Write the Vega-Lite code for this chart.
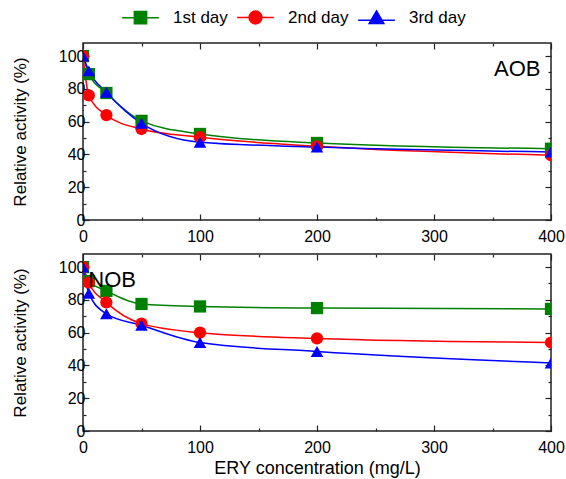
{
  "$schema": "https://vega.github.io/schema/vega-lite/v6.json",
  "padding": {"top": 9, "left": 10, "right": 0, "bottom": 0},
  "background": "white",
  "spacing": 7,
  "config": {
    "font": "Arial",
    "view": {"stroke": "#222222", "strokeWidth": 1.5},
    "axis": {"grid": false, "domain": false, "tickColor": "#222222", "tickWidth": 1.2, "labelColor": "black", "labelFontSize": 16, "titleFontSize": 17, "titleFontWeight": "normal", "titleColor": "black", "labelFont": "Arial", "titleFont": "Arial", "labelPadding": 4, "titlePadding": 29, "labelFlush": false},
    "axisX": {"labelPadding": 14},
    "legend": {
      "orient": "none", "legendX": 49, "legendY": -34, "direction": "horizontal",
      "labelFontSize": 17, "labelFont": "Arial", "labelColor": "black",
      "symbolSize": 150, "labelOffset": 24, "columnPadding": 6, "symbolStrokeWidth": 1.5, "symbolOpacity": 1
    }
  },
  "datasets": {
    "d": [
      {"panel": "AOB", "day": "1st day", "conc": 0, "act": 100},
      {"panel": "AOB", "day": "1st day", "conc": 5, "act": 89},
      {"panel": "AOB", "day": "1st day", "conc": 20, "act": 77.5},
      {"panel": "AOB", "day": "1st day", "conc": 50, "act": 60.5},
      {"panel": "AOB", "day": "1st day", "conc": 100, "act": 52.5},
      {"panel": "AOB", "day": "1st day", "conc": 200, "act": 47},
      {"panel": "AOB", "day": "1st day", "conc": 400, "act": 43.5},
      {"panel": "AOB", "day": "2nd day", "conc": 0, "act": 100},
      {"panel": "AOB", "day": "2nd day", "conc": 5, "act": 76},
      {"panel": "AOB", "day": "2nd day", "conc": 20, "act": 64},
      {"panel": "AOB", "day": "2nd day", "conc": 50, "act": 55.5},
      {"panel": "AOB", "day": "2nd day", "conc": 100, "act": 50.5},
      {"panel": "AOB", "day": "2nd day", "conc": 200, "act": 45},
      {"panel": "AOB", "day": "2nd day", "conc": 400, "act": 39.5},
      {"panel": "AOB", "day": "3rd day", "conc": 0, "act": 100},
      {"panel": "AOB", "day": "3rd day", "conc": 5, "act": 91},
      {"panel": "AOB", "day": "3rd day", "conc": 20, "act": 78},
      {"panel": "AOB", "day": "3rd day", "conc": 50, "act": 59},
      {"panel": "AOB", "day": "3rd day", "conc": 100, "act": 47.5},
      {"panel": "AOB", "day": "3rd day", "conc": 200, "act": 44.5},
      {"panel": "AOB", "day": "3rd day", "conc": 400, "act": 41.5},
      {"panel": "NOB", "day": "1st day", "conc": 0, "act": 100},
      {"panel": "NOB", "day": "1st day", "conc": 5, "act": 91.5},
      {"panel": "NOB", "day": "1st day", "conc": 20, "act": 85.5},
      {"panel": "NOB", "day": "1st day", "conc": 50, "act": 77.5},
      {"panel": "NOB", "day": "1st day", "conc": 100, "act": 76},
      {"panel": "NOB", "day": "1st day", "conc": 200, "act": 75},
      {"panel": "NOB", "day": "1st day", "conc": 400, "act": 74.5},
      {"panel": "NOB", "day": "2nd day", "conc": 0, "act": 100},
      {"panel": "NOB", "day": "2nd day", "conc": 5, "act": 90.5},
      {"panel": "NOB", "day": "2nd day", "conc": 20, "act": 78.5},
      {"panel": "NOB", "day": "2nd day", "conc": 50, "act": 65.5},
      {"panel": "NOB", "day": "2nd day", "conc": 100, "act": 60},
      {"panel": "NOB", "day": "2nd day", "conc": 200, "act": 56.5},
      {"panel": "NOB", "day": "2nd day", "conc": 400, "act": 54},
      {"panel": "NOB", "day": "3rd day", "conc": 0, "act": 100},
      {"panel": "NOB", "day": "3rd day", "conc": 5, "act": 84},
      {"panel": "NOB", "day": "3rd day", "conc": 20, "act": 71.5},
      {"panel": "NOB", "day": "3rd day", "conc": 50, "act": 64.5},
      {"panel": "NOB", "day": "3rd day", "conc": 100, "act": 54},
      {"panel": "NOB", "day": "3rd day", "conc": 200, "act": 48.5},
      {"panel": "NOB", "day": "3rd day", "conc": 400, "act": 41.5}
    ]
  },
  "vconcat": [
    {
      "width": 468, "height": 177,
      "data": {"name": "d"},
      "transform": [{"filter": "datum.panel === 'AOB'"}],
      "resolve": {"axis": {"x": "independent", "y": "independent"}},
      "layer": [
        {
          "mark": {"type": "line", "interpolate": "monotone", "strokeWidth": 1.5, "clip": true},
          "encoding": {
            "x": {"field": "conc", "type": "quantitative", "scale": {"domain": [0, 400], "nice": false},
              "axis": {"orient": "bottom", "title": null, "values": [0, 50, 100, 150, 200, 250, 300, 350, 400], "labelExpr": "datum.value % 100 === 0 ? datum.label : ''", "tickSize": {"condition": {"test": "datum.value % 100 === 0", "value": -6}, "value": -3}}},
            "y": {"field": "act", "type": "quantitative", "scale": {"domain": [0, 108], "nice": false},
              "axis": {"orient": "left", "title": "Relative activity (%)", "values": [0, 10, 20, 30, 40, 50, 60, 70, 80, 90, 100], "labelExpr": "datum.value % 20 === 0 ? datum.label : ''", "tickSize": {"condition": {"test": "datum.value % 20 === 0", "value": -6}, "value": -3}}},
            "color": {"field": "day", "type": "nominal", "scale": {"range": ["#008000", "#ff0000", "#0000ff"]}, "legend": null}
          }
        },
        {
          "transform": [{"filter": "datum.day === '1st day'"}],
          "mark": {"type": "point", "shape": "square", "filled": true, "opacity": 1, "size": 150, "clip": true},
          "encoding": {
            "x": {"field": "conc", "type": "quantitative",
              "axis": {"orient": "top", "title": null, "labels": false, "values": [0, 50, 100, 150, 200, 250, 300, 350, 400], "tickSize": {"condition": {"test": "datum.value % 100 === 0", "value": -6}, "value": -3}}},
            "y": {"field": "act", "type": "quantitative",
              "axis": {"orient": "right", "title": null, "labels": false, "values": [0, 10, 20, 30, 40, 50, 60, 70, 80, 90, 100], "tickSize": {"condition": {"test": "datum.value % 20 === 0", "value": -6}, "value": -3}}},
            "color": {"field": "day", "type": "nominal", "legend": null}
          }
        },
        {
          "transform": [{"filter": "datum.day === '2nd day'"}],
          "mark": {"type": "point", "shape": "circle", "filled": true, "opacity": 1, "size": 150, "clip": true},
          "encoding": {
            "x": {"field": "conc", "type": "quantitative", "axis": null},
            "y": {"field": "act", "type": "quantitative", "axis": null},
            "color": {"field": "day", "type": "nominal", "legend": null}
          }
        },
        {
          "transform": [{"filter": "datum.day === '3rd day'"}],
          "mark": {"type": "point", "shape": "triangle-up", "filled": true, "opacity": 1, "size": 160, "clip": true},
          "encoding": {
            "x": {"field": "conc", "type": "quantitative", "axis": null},
            "y": {"field": "act", "type": "quantitative", "axis": null},
            "color": {"field": "day", "type": "nominal", "legend": null}
          }
        },
        {
          "transform": [{"filter": "datum.conc < 0"}],
          "mark": {"type": "point", "filled": true, "opacity": 1, "size": 150, "clip": true},
          "encoding": {
            "x": {"field": "conc", "type": "quantitative", "axis": null},
            "y": {"field": "act", "type": "quantitative", "axis": null},
            "fill": {"field": "day", "type": "nominal", "scale": {"domain": ["1st day", "2nd day", "3rd day"], "range": ["#008000", "#ff0000", "#0000ff"]}, "legend": {"title": null}},
            "stroke": {"field": "day", "type": "nominal", "scale": {"domain": ["1st day", "2nd day", "3rd day"], "range": ["#008000", "#ff0000", "#0000ff"]}, "legend": {"title": null}},
            "shape": {"field": "day", "type": "nominal", "scale": {"domain": ["1st day", "2nd day", "3rd day"], "range": ["M-3,0H3M-1,-1H1V1H-1Z", "M-3,0H3M1.05,0A1.05,1.05 0 1,1 -1.05,0A1.05,1.05 0 1,1 1.05,0Z", "M-3,0.35H3M0,-1.15L1.2,0.9H-1.2Z"]}, "legend": {"title": null}}
          }
        },
        {
          "data": {"values": [{"label": "AOB"}]},
          "mark": {"type": "text", "fontSize": 22, "align": "right", "baseline": "middle", "color": "black", "font": "Arial", "fontWeight": "normal"},
          "encoding": {
            "x": {"datum": 391, "type": "quantitative", "axis": null},
            "y": {"datum": 92, "type": "quantitative", "axis": null},
            "text": {"field": "label", "type": "nominal"}
          }
        }
      ]
    },
    {
      "width": 468, "height": 177,
      "data": {"name": "d"},
      "transform": [{"filter": "datum.panel === 'NOB'"}],
      "resolve": {"axis": {"x": "independent", "y": "independent"}},
      "layer": [
        {
          "mark": {"type": "line", "interpolate": "monotone", "strokeWidth": 1.5, "clip": true},
          "encoding": {
            "x": {"field": "conc", "type": "quantitative", "scale": {"domain": [0, 400], "nice": false},
              "axis": {"orient": "bottom", "title": "ERY concentration (mg/L)", "titleFontSize": 18, "titlePadding": 4, "values": [0, 50, 100, 150, 200, 250, 300, 350, 400], "labelExpr": "datum.value % 100 === 0 ? datum.label : ''", "tickSize": {"condition": {"test": "datum.value % 100 === 0", "value": -6}, "value": -3}}},
            "y": {"field": "act", "type": "quantitative", "scale": {"domain": [0, 108], "nice": false},
              "axis": {"orient": "left", "title": "Relative activity (%)", "values": [0, 10, 20, 30, 40, 50, 60, 70, 80, 90, 100], "labelExpr": "datum.value % 20 === 0 ? datum.label : ''", "tickSize": {"condition": {"test": "datum.value % 20 === 0", "value": -6}, "value": -3}}},
            "color": {"field": "day", "type": "nominal", "legend": null}
          }
        },
        {
          "transform": [{"filter": "datum.day === '1st day'"}],
          "mark": {"type": "point", "shape": "square", "filled": true, "opacity": 1, "size": 150, "clip": true},
          "encoding": {
            "x": {"field": "conc", "type": "quantitative",
              "axis": {"orient": "top", "title": null, "labels": false, "values": [0, 50, 100, 150, 200, 250, 300, 350, 400], "tickSize": {"condition": {"test": "datum.value % 100 === 0", "value": -6}, "value": -3}}},
            "y": {"field": "act", "type": "quantitative",
              "axis": {"orient": "right", "title": null, "labels": false, "values": [0, 10, 20, 30, 40, 50, 60, 70, 80, 90, 100], "tickSize": {"condition": {"test": "datum.value % 20 === 0", "value": -6}, "value": -3}}},
            "color": {"field": "day", "type": "nominal", "legend": null}
          }
        },
        {
          "transform": [{"filter": "datum.day === '2nd day'"}],
          "mark": {"type": "point", "shape": "circle", "filled": true, "opacity": 1, "size": 150, "clip": true},
          "encoding": {
            "x": {"field": "conc", "type": "quantitative", "axis": null},
            "y": {"field": "act", "type": "quantitative", "axis": null},
            "color": {"field": "day", "type": "nominal", "legend": null}
          }
        },
        {
          "transform": [{"filter": "datum.day === '3rd day'"}],
          "mark": {"type": "point", "shape": "triangle-up", "filled": true, "opacity": 1, "size": 160, "clip": true},
          "encoding": {
            "x": {"field": "conc", "type": "quantitative", "axis": null},
            "y": {"field": "act", "type": "quantitative", "axis": null},
            "color": {"field": "day", "type": "nominal", "legend": null}
          }
        },
        {
          "data": {"values": [{"label": "NOB"}]},
          "mark": {"type": "text", "fontSize": 22, "align": "left", "baseline": "middle", "color": "black", "font": "Arial", "fontWeight": "normal"},
          "encoding": {
            "x": {"datum": 4.5, "type": "quantitative", "axis": null},
            "y": {"datum": 92, "type": "quantitative", "axis": null},
            "text": {"field": "label", "type": "nominal"}
          }
        }
      ]
    }
  ]
}
